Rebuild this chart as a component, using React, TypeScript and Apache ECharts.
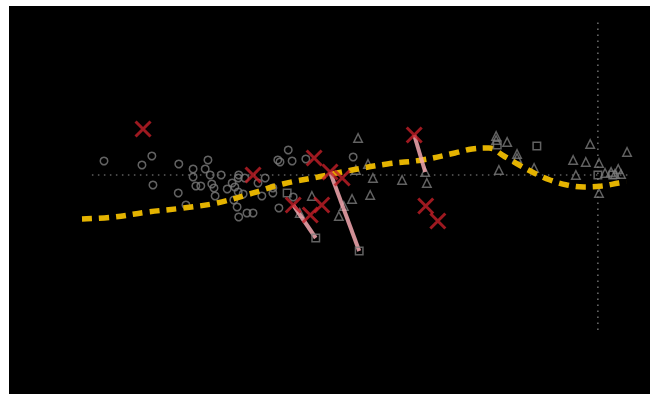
import React, { useEffect, useRef } from "react";
import * as echarts from "echarts";

// Fitted curve (x, y)
const curveX = [0, 0.58, 1.2, 1.84, 2.45, 3.05, 3.65, 4.29, 4.91, 5.55, 6.18, 6.78, 7.09, 7.4, 7.67, 7.95, 8.22, 8.51, 8.82, 9.13, 9.45, 9.76, 9.9];
const curveY = [-0.88, -0.84, -0.74, -0.66, -0.56, -0.38, -0.18, -0.04, 0.1, 0.22, 0.3, 0.44, 0.52, 0.54, 0.38, 0.2, 0.04, -0.1, -0.2, -0.24, -0.22, -0.16, -0.14];

const circlePts: [number, number][] = [
  [0.4, 0.28], [1.09, 0.2], [1.27, 0.38], [1.29, -0.2], [1.76, 0.22], [1.75, -0.36], [1.89, -0.6],
  [2.02, 0.12], [2.02, -0.04], [2.07, -0.22], [2.16, -0.22], [2.24, 0.12], [2.29, 0.3], [2.33, 0.0],
  [2.36, -0.18], [2.4, -0.26], [2.42, -0.42], [2.53, 0.0], [2.64, -0.28], [2.73, -0.16], [2.76, -0.5],
  [2.82, -0.64], [2.85, -0.84], [2.85, 0.0], [2.78, -0.24], [2.84, -0.34], [2.93, -0.38], [3.0, -0.76],
  [3.11, -0.76], [3.27, -0.42], [3.33, -0.06], [3.47, -0.26], [3.56, 0.3], [3.58, -0.66], [3.2, -0.16],
  [3.6, 0.26], [3.75, 0.5], [3.82, 0.28], [4.07, 0.32], [4.93, 0.36], [3.47, -0.36], [3.84, -0.44],
  [2.96, -0.06], [2.84, -0.06],
];

const trianglePts: [number, number][] = [
  [5.02, 0.74], [4.98, 0.1], [5.2, 0.22], [5.29, -0.06], [5.24, -0.4], [4.91, -0.48], [4.67, -0.82],
  [4.76, -0.62], [4.18, -0.42], [3.96, -0.76], [5.82, -0.1], [6.27, -0.16], [6.24, 0.06], [7.53, 0.78],
  [7.53, 0.7], [7.73, 0.66], [7.91, 0.42], [7.91, 0.34], [7.58, 0.1], [8.22, 0.14], [8.93, 0.3],
  [9.16, 0.26], [9.24, 0.62], [8.98, 0.0], [9.4, 0.24], [9.4, -0.36], [9.51, 0.04], [9.62, 0.06],
  [9.69, 0.02], [9.75, 0.12], [9.8, 0.02], [9.91, 0.46],
];

const squarePts: [number, number][] = [
  [3.73, -0.36], [4.25, -1.26], [5.04, -1.52], [7.55, 0.6], [8.27, 0.58], [9.38, 0.0], [9.65, 0.0],
];

const crossPts: [number, number][] = [
  [1.11, 0.92], [3.11, 0.0], [3.84, -0.6], [4.15, -0.8], [4.36, -0.6], [4.22, 0.34], [4.51, 0.06],
  [4.73, -0.06], [6.04, 0.8], [6.25, -0.62], [6.47, -0.92],
];

const segStart: [number, number][] = [[3.84, -0.6], [4.51, 0.06], [6.04, 0.8]];
const segEnd: [number, number][] = [[4.25, -1.26], [5.04, -1.52], [6.24, 0.06]];

const refHX = [0.18, 9.96];
const refVX = 9.38;
const yMin = -3.1;
const yMax = 3.1;

const gray = "#7a7a7a";

export default function App() {
  const ref = useRef<HTMLDivElement>(null);
  useEffect(() => {
    if (!ref.current) return;
    const chart = echarts.init(ref.current, undefined, { renderer: "svg" });
    chart.setOption({
      animation: false,
      backgroundColor: "#000",
      grid: { left: 73, right: 18, top: 14, bottom: 64 },
      xAxis: { type: "value", min: 0, max: 10, show: false },
      yAxis: { type: "value", min: yMin, max: yMax, show: false },
      series: [
        {
          type: "line",
          data: refHX.map((x) => [x, 0]),
          symbol: "none",
          lineStyle: { color: "#8a8a8a", width: 1.2, type: [1.5, 4.5] },
          z: 1,
        },
        {
          type: "line",
          data: [[refVX, yMin], [refVX, yMax]],
          symbol: "none",
          lineStyle: { color: "#8a8a8a", width: 1.2, type: [1.5, 4.5] },
          z: 1,
        },
        {
          type: "scatter",
          data: circlePts,
          symbol: "circle",
          symbolSize: 7.5,
          itemStyle: { color: "transparent", borderColor: gray, borderWidth: 1.5 },
          z: 2,
        },
        {
          type: "scatter",
          data: trianglePts,
          symbol: "triangle",
          symbolSize: 8.5,
          itemStyle: { color: "transparent", borderColor: gray, borderWidth: 1.5 },
          z: 2,
        },
        {
          type: "line",
          data: curveX.map((x, i) => [x, curveY[i]]),
          smooth: 0.4,
          symbol: "none",
          lineStyle: { color: "#e4b300", width: 5.5, type: [10, 7], cap: "butt" },
          z: 3,
        },
        {
          type: "lines",
          coordinateSystem: "cartesian2d",
          data: segStart.map((s, i) => ({ coords: [s, segEnd[i]] })),
          lineStyle: { color: "#f4a8b0", width: 4, opacity: 0.85 },
          z: 4,
        },
        {
          type: "scatter",
          data: squarePts,
          symbol: "rect",
          symbolSize: 7.5,
          itemStyle: { color: "transparent", borderColor: gray, borderWidth: 1.5 },
          z: 5,
        },
        {
          type: "scatter",
          data: crossPts,
          symbol: "path://M0,0L10,10M10,0L0,10",
          symbolSize: 15,
          itemStyle: { color: "transparent", borderColor: "#c41f28", borderWidth: 3 },
          z: 6,
        },
      ],
    });
    return () => chart.dispose();
  }, []);
  return (
    <div
      ref={ref}
      style={{ position: "absolute", left: 9, top: 6, width: 641, height: 388 }}
    />
  );
}
